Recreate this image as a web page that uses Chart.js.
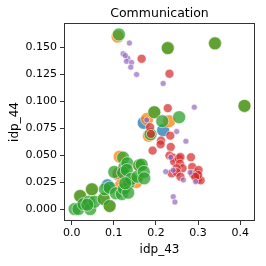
<!DOCTYPE html>
<html>
<head>
<meta charset="utf-8">
<script src="https://cdn.jsdelivr.net/npm/chart.js@4/dist/chart.umd.min.js"></script>
<style>
  html, body { margin: 0; padding: 0; background: #fff; }
  #wrap { width: 266px; height: 266px; }
</style>
</head>
<body>
<div id="wrap"><canvas id="c"></canvas></div>
<script>
// 各组数据 [idp_43, idp_44]
const bluePts = [
  [0.171, 0.080], [0.217, 0.0731], [0.085, 0.022], [0.111, 0.032]
];
const orangePts = [
  [0.109, 0.160], [0.228, 0.1493], [0.340, 0.1537], [0.410, 0.0957], [0.196, 0.0898],
  [0.179, 0.0836], [0.231, 0.0815], [0.183, 0.068], [0.114, 0.0486], [0.111, 0.0331],
  [0.117, 0.022], [0.133, 0.0266], [0.153, 0.0251], [0.160, 0.0400], [0.090, 0.0028],
  [0.020, 0.0121], [0.048, 0.0183], [0.076, 0.0093]
];
const greenPts = [
  [0.112, 0.162], [0.228, 0.1493], [0.340, 0.1537], [0.410, 0.0957], [0.196, 0.0898],
  [0.215, 0.0815], [0.255, 0.0852], [0.187, 0.0694],
  [0.007, 0.0], [0.016, 0.0], [0.020, 0.0121], [0.028, 0.0046], [0.041, 0.0068],
  [0.044, 0.0], [0.048, 0.0183], [0.054, 0.0068], [0.037, 0.004], [0.076, 0.0093],
  [0.079, 0.0183], [0.090, 0.0198], [0.090, 0.0028], [0.101, 0.0344], [0.105, 0.0146],
  [0.122, 0.0477], [0.125, 0.0387], [0.132, 0.0424], [0.122, 0.0338], [0.131, 0.0362],
  [0.119, 0.0139], [0.124, 0.0189], [0.136, 0.0245], [0.134, 0.0152], [0.141, 0.0279],
  [0.156, 0.030], [0.160, 0.0406], [0.166, 0.0412], [0.171, 0.0344], [0.172, 0.0285],
  [0.127, 0.0239]
];
const redPts = [
  [0.166, 0.1394], [0.232, 0.1255], [0.228, 0.0936], [0.186, 0.0759], [0.188, 0.0697],
  [0.192, 0.0542], [0.212, 0.0635], [0.211, 0.060], [0.234, 0.0681], [0.235, 0.0576],
  [0.232, 0.0496], [0.240, 0.0477], [0.243, 0.044], [0.254, 0.047], [0.258, 0.0483],
  [0.257, 0.0421], [0.263, 0.0378], [0.249, 0.0378], [0.237, 0.0331], [0.249, 0.0341],
  [0.258, 0.030], [0.283, 0.048], [0.286, 0.039], [0.288, 0.0325], [0.297, 0.0331],
  [0.301, 0.0362], [0.299, 0.0276], [0.306, 0.0266], [0.300, 0.0316], [0.293, 0.030]
];
const purplePts = [
  [0.137, 0.154], [0.122, 0.144], [0.133, 0.140], [0.130, 0.137], [0.142, 0.136],
  [0.140, 0.1316], [0.154, 0.1248], [0.127, 0.1424], [0.217, 0.1165], [0.291, 0.0945],
  [0.178, 0.0827], [0.249, 0.0719], [0.271, 0.0629], [0.235, 0.048], [0.223, 0.0347],
  [0.241, 0.036], [0.265, 0.027], [0.281, 0.034], [0.294, 0.0254], [0.241, 0.0115],
  [0.245, 0.0065]
];
const xTicks = [0.0, 0.1, 0.2, 0.3, 0.4];
const yTicks = [0.000, 0.025, 0.050, 0.075, 0.100, 0.125, 0.150];
const chartTitle = 'Communication';

const toXY = arr => arr.map(p => ({ x: p[0], y: p[1] }));

function makeSet(pts, color, r) {
  return {
    data: toXY(pts),
    backgroundColor: color,
    borderColor: 'rgba(255,255,255,0.7)',
    borderWidth: 0.8,
    pointRadius: r,
    pointHoverRadius: r
  };
}

// 边框 + 居中于绘图区的标题
const frame = {
  id: 'frame',
  afterDraw(chart) {
    const a = chart.chartArea, ctx = chart.ctx;
    ctx.save();
    ctx.strokeStyle = '#333';
    ctx.lineWidth = 1;
    ctx.strokeRect(a.left + 0.5, a.top + 0.5, a.right - a.left - 1, a.bottom - a.top - 1);
    ctx.fillStyle = '#000';
    ctx.font = '12.5px "DejaVu Sans"';
    ctx.textAlign = 'center';
    ctx.textBaseline = 'middle';
    ctx.fillText(chartTitle, (a.left + a.right) / 2, 14);
    ctx.restore();
  }
};

const font = { family: 'DejaVu Sans', size: 11 };

// 注意：Chart.js 中靠前的数据集画在上层
new Chart(document.getElementById('c'), {
  type: 'scatter',
  data: {
    datasets: [
      makeSet(purplePts, 'rgba(148,103,189,0.7)', 3),
      makeSet(redPts, 'rgba(214,39,40,0.7)', 4.5),
      makeSet(greenPts, 'rgba(44,160,44,0.75)', 6.5),
      makeSet(orangePts, 'rgba(255,127,14,0.75)', 6.5),
      makeSet(bluePts, 'rgba(31,119,180,0.75)', 6.5)
    ]
  },
  options: {
    responsive: true,
    maintainAspectRatio: false,
    animation: false,
    layout: { padding: { left: 0, right: 11, top: 23, bottom: 0 } },
    plugins: {
      legend: { display: false },
      tooltip: { enabled: false },
      title: { display: false }
    },
    scales: {
      x: {
        type: 'linear',
        min: -0.0183,
        max: 0.435,
        afterBuildTicks: s => { s.ticks = xTicks.map(v => ({ value: v })); },
        afterFit: s => { s.height = 45; },
        grid: { display: true, drawOnChartArea: false, tickLength: 4, color: '#333' },
        border: { display: false },
        ticks: { color: '#000', font: font, padding: 2, maxRotation: 0,
          callback: v => Number(v).toFixed(1) },
        title: { display: true, text: 'idp_43', color: '#000',
          font: { family: 'DejaVu Sans', size: 12 }, padding: { top: 0, bottom: 9 } }
      },
      y: {
        type: 'linear',
        min: -0.0111,
        max: 0.1726,
        afterBuildTicks: s => { s.ticks = yTicks.map(v => ({ value: v })); },
        afterFit: s => { s.width = 64; },
        grid: { display: true, drawOnChartArea: false, tickLength: 4, color: '#333' },
        border: { display: false },
        ticks: { color: '#000', font: font, padding: 3,
          callback: v => Number(v).toFixed(3) },
        title: { display: true, text: 'idp_44', color: '#000',
          font: { family: 'DejaVu Sans', size: 12 }, padding: { top: 8, bottom: 0 } }
      }
    }
  },
  plugins: [frame]
});
</script>
</body>
</html>
